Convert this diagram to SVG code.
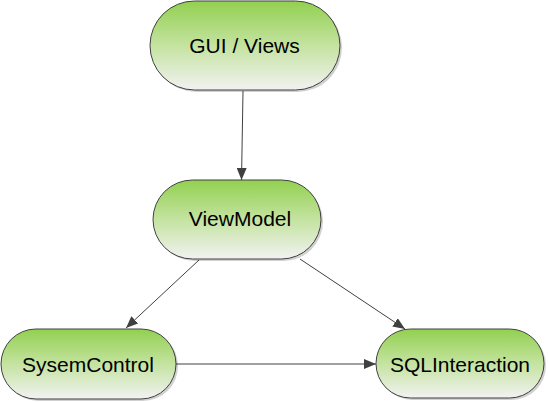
<svg xmlns="http://www.w3.org/2000/svg" width="548" height="402" viewBox="0 0 548 402">
<defs>
<linearGradient id="g" x1="0" y1="0" x2="0" y2="1">
<stop offset="0" stop-color="#92d050"/>
<stop offset="0.5" stop-color="#c4e3a0"/>
<stop offset="1" stop-color="#f2f2f2"/>
</linearGradient>
<marker id="arr" markerUnits="userSpaceOnUse" markerWidth="12" markerHeight="10" viewBox="0 0 12 10" refX="12" refY="5" orient="auto">
<path d="M0,0 L12,5 L0,10 z" fill="#404040"/>
</marker>
</defs>
<style>
.shadow{fill:#000;opacity:0.18}
.node{fill:url(#g);stroke:#404040;stroke-width:1}
.lbl{font-family:"Liberation Sans",Arial,sans-serif;font-size:21px;fill:#000;text-anchor:middle}
.edge{stroke:#404040;stroke-width:1;fill:none;marker-end:url(#arr)}
</style>
<rect width="548" height="402" fill="#fff"/>
<g id="connectors">
<line class="edge" x1="243" y1="91" x2="241.5" y2="180"/>
<line class="edge" x1="199" y1="260" x2="126" y2="328"/>
<line class="edge" x1="300" y1="259" x2="405" y2="329"/>
<line class="edge" x1="176" y1="364" x2="376" y2="364"/>
</g>
<g id="gui">
<rect class="shadow" x="152" y="3" width="190" height="89" rx="44.5"/>
<rect class="node" x="150" y="1" width="190" height="89" rx="44.5"/>
<text class="lbl" x="244.5" y="53">GUI / Views</text>
</g>
<g id="viewmodel">
<rect class="shadow" x="155" y="182" width="168" height="79" rx="39.5"/>
<rect class="node" x="153" y="180" width="168" height="79" rx="39.5"/>
<text class="lbl" x="240" y="226">ViewModel</text>
</g>
<g id="sysemcontrol">
<rect class="shadow" x="3" y="331" width="175" height="70" rx="35"/>
<rect class="node" x="1" y="329" width="175" height="70" rx="35"/>
<text class="lbl" x="88" y="372">SysemControl</text>
</g>
<g id="sqlinteraction">
<rect class="shadow" x="378" y="331" width="168" height="69" rx="34.5"/>
<rect class="node" x="376" y="329" width="168" height="69" rx="34.5"/>
<text class="lbl" x="460" y="372">SQLInteraction</text>
</g>
</svg>
